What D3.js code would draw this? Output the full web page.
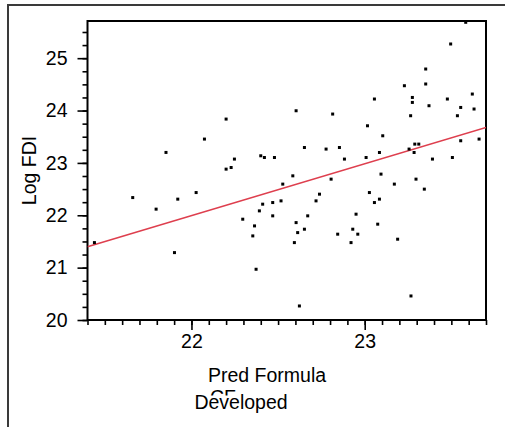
<!DOCTYPE html>
<html>
<head>
<meta charset="utf-8" />
<script src="https://d3js.org/d3.v7.min.js"></script>
<style>
  body { margin: 0; background: #fff; }
  svg { display: block; font-family: "Liberation Sans", Arial, sans-serif; }
</style>
</head>
<body>
<svg id="chart" width="505" height="427"></svg>
<script>
var predX = [21.853, 22.200, 22.075, 22.400, 22.421, 22.479, 22.248, 22.200, 22.229,
  23.056, 22.604, 22.815, 23.016, 23.104, 22.652, 22.777, 22.854, 22.883, 23.008, 23.085,
  23.583, 23.496, 23.352, 23.229, 23.352, 23.275, 23.275, 23.621, 23.477, 23.371, 23.554,
  23.631, 23.265, 23.535, 23.554, 23.660, 23.289, 23.312, 23.256, 23.285, 23.391, 23.506,
  21.661, 21.921, 21.796, 21.440, 21.902,
  22.027, 22.527, 22.411, 22.469, 22.517, 22.392, 22.469, 22.296, 22.364, 22.354, 22.373,
  22.585, 22.806, 23.094, 22.739, 22.719, 23.027, 23.056, 23.085, 22.671, 22.604, 22.613,
  22.652, 22.594, 22.950, 23.075, 22.844, 22.931, 22.960, 22.921, 22.623,
  23.171, 23.296, 23.344, 23.190, 23.267];
var logFDI = [23.20, 23.837, 23.455, 23.136, 23.103, 23.103, 23.073, 22.881, 22.912,
  24.220, 23.996, 23.933, 23.709, 23.518, 23.294, 23.264, 23.294, 23.073, 23.103, 23.199,
  25.685, 25.271, 24.793, 24.474, 24.507, 24.250, 24.155, 24.315, 24.220, 24.092, 24.059,
  24.029, 23.901, 23.901, 23.423, 23.455, 23.359, 23.359, 23.264, 23.199, 23.073, 23.103,
  22.338, 22.308, 22.117, 21.478, 21.287,
  22.434, 22.595, 22.212, 22.243, 22.275, 22.084, 21.989, 21.925, 21.797, 21.606, 20.969,
  22.753, 22.690, 22.786, 22.403, 22.275, 22.434, 22.243, 22.308, 21.989, 21.860, 21.669,
  21.734, 21.478, 22.021, 21.830, 21.639, 21.734, 21.639, 21.478, 20.268,
  22.595, 22.690, 22.499, 21.543, 20.459];

var fitX = [21.4, 23.7];
var fitY = [21.40, 23.677];

var xMajor = [22, 23];
var yMajor = [20, 21, 22, 23, 24, 25];

(function () {
  var svg = d3.select("#chart");
  var pL = 87.5, pR = 486, pT = 21, pB = 320;

  var x = d3.scaleLinear().domain([21.4, 23.7]).range([pL, pR]);
  var y = d3.scaleLinear().domain([20, 25.71]).range([pB, pT]);

  // outer frame (only top and left edges show in the window)
  svg.append("rect")
    .attr("x", 8).attr("y", 5).attr("width", 700).attr("height", 600)
    .attr("fill", "none").attr("stroke", "#3a3a3a").attr("stroke-width", 2);

  svg.append("defs").append("clipPath").attr("id", "clip")
    .append("rect").attr("x", pL).attr("y", pT)
    .attr("width", pR - pL).attr("height", pB - pT);

  var xMinor = d3.range(21.4, 23.71, 0.1).map(function (d) { return +d.toFixed(1); });
  var yMinor = d3.range(20, 25.71, 0.25);

  function styleAxis(g) {
    g.select(".domain").remove();
    g.selectAll("line").attr("stroke", "#000").attr("stroke-width", 1.6);
    g.selectAll("text").attr("fill", "#000").style("font-size", "19.5px")
      .style("font-family", "'Liberation Sans', Arial, sans-serif");
  }

  svg.append("g").attr("transform", "translate(0," + pB + ")")
    .call(d3.axisBottom(x).tickValues(xMinor).tickSize(5).tickFormat(""))
    .call(styleAxis);
  svg.append("g").attr("transform", "translate(0," + pB + ")")
    .call(d3.axisBottom(x).tickValues(xMajor).tickSize(10).tickPadding(4).tickFormat(d3.format("d")))
    .call(styleAxis);

  svg.append("g").attr("transform", "translate(" + pL + ",0)")
    .call(d3.axisLeft(y).tickValues(yMinor).tickSize(5).tickFormat(""))
    .call(styleAxis);
  svg.append("g").attr("transform", "translate(" + pL + ",0)")
    .call(d3.axisLeft(y).tickValues(yMajor).tickSize(10).tickPadding(10).tickFormat(d3.format("d")))
    .call(styleAxis);

  // plot frame
  svg.append("rect")
    .attr("x", pL).attr("y", pT).attr("width", pR - pL).attr("height", pB - pT)
    .attr("fill", "none").attr("stroke", "#000").attr("stroke-width", 2);

  // fit line
  svg.append("line")
    .attr("clip-path", "url(#clip)")
    .attr("x1", x(fitX[0])).attr("y1", y(fitY[0]))
    .attr("x2", x(fitX[1])).attr("y2", y(fitY[1]))
    .attr("stroke", "#de3f4e").attr("stroke-width", 1.6);

  // points
  svg.append("g").selectAll("rect")
    .data(predX.map(function (d, i) { return [d, logFDI[i]]; }))
    .enter().append("rect")
    .attr("x", function (d) { return x(d[0]) - 1.5; })
    .attr("y", function (d) { return y(d[1]) - 1.5; })
    .attr("width", 3).attr("height", 3)
    .attr("fill", "#000");

  // axis titles
  svg.append("text")
    .attr("transform", "translate(36," + ((pT + pB) / 2) + ") rotate(-90)")
    .attr("text-anchor", "middle")
    .style("font-size", "19.5px")
    .text("Log FDI");

  svg.append("text")
    .attr("x", 208).attr("y", 381.5)
    .style("font-size", "19.5px")
    .text("Pred Formula");
  svg.append("text")
    .attr("x", 210).attr("y", 404)
    .style("font-size", "19.5px")
    .text("CF");
  svg.append("rect")
    .attr("x", 188).attr("y", 395.5).attr("width", 110).attr("height", 22)
    .attr("fill", "#fff");
  svg.append("text")
    .attr("x", 241).attr("y", 409.3)
    .attr("text-anchor", "middle")
    .style("font-size", "19.5px")
    .text("Developed");
})();
</script>
</body>
</html>
